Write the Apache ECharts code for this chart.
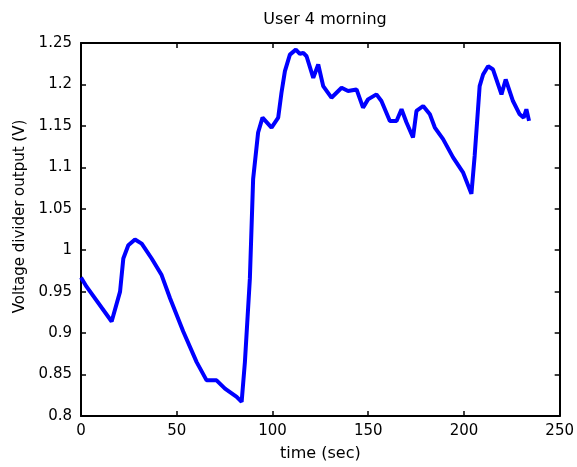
<!DOCTYPE html>
<html><head><meta charset="utf-8">
<script src="https://cdn.jsdelivr.net/npm/echarts@6/dist/echarts.min.js"></script>
<style>html,body{margin:0;padding:0;background:#fff}#c{width:577px;height:467px}</style>
</head><body><div id="c"></div>
<script>
const titleText = "User 4 morning";
const xName = "time (sec)";
const yName = "Voltage divider output (V)";
const timeSec = [0,2.9,16.0,20.4,22.1,24.7,28.2,31.7,36.9,42.1,46.5,53.4,60.4,65.6,70.8,75.2,81.3,83.9,85.6,88.2,89.9,92.5,94.8,99.5,103.0,104.7,106.5,109.1,112.2,114.3,116.1,117.8,121.3,123.9,126.5,130.8,136.1,139.5,143.9,147.3,149.9,154.3,156.9,161.3,164.8,167.4,170.0,173.4,175.2,178.7,182.2,184.8,189.1,194.3,199.5,203.9,205.6,208.2,210.0,212.6,215.2,219.6,221.8,225.6,229.1,231.2,232.6,234.0];
const voltage = [0.967,0.956,0.914,0.950,0.990,1.006,1.013,1.008,0.990,0.970,0.942,0.902,0.865,0.843,0.843,0.833,0.823,0.817,0.865,0.966,1.086,1.142,1.160,1.148,1.160,1.190,1.216,1.236,1.242,1.237,1.238,1.234,1.208,1.224,1.198,1.184,1.196,1.192,1.194,1.172,1.182,1.188,1.180,1.156,1.156,1.170,1.154,1.136,1.168,1.174,1.164,1.148,1.134,1.112,1.094,1.068,1.114,1.198,1.212,1.222,1.218,1.188,1.206,1.180,1.164,1.160,1.170,1.156];
const xTicks = [0,50,100,150,200,250];
const yTicks = [0.8,0.85,0.9,0.95,1,1.05,1.1,1.15,1.2,1.25];

const font = "DejaVu Sans";
const fmtY = v => String(+v.toFixed(2));
const axisCommon = {
  axisLine:{show:true,onZero:false,lineStyle:{color:'#000',width:2}},
  axisTick:{show:true,inside:true,length:5,lineStyle:{color:'#000',width:1.5}},
  splitLine:{show:false}
};
const chart = echarts.init(document.getElementById('c'));
chart.setOption({
  animation:false,
  backgroundColor:'#fff',
  title:{text:titleText,left:320,top:7,textAlign:'center',textStyle:{fontFamily:font,fontSize:16,fontWeight:'normal',color:'#000'}},
  grid:{left:81,top:43,right:17,bottom:49},
  xAxis:[
    Object.assign({type:'value',min:xTicks[0],max:xTicks[xTicks.length-1],interval:50,position:'bottom',
      name:xName,nameLocation:'middle',nameGap:30,nameTextStyle:{fontFamily:font,fontSize:16,color:'#000'},
      axisLabel:{fontFamily:font,fontSize:15,color:'#000',margin:8}},axisCommon),
    Object.assign({type:'value',min:0,max:250,interval:50,position:'top',axisLabel:{show:false}},axisCommon)
  ],
  yAxis:[
    Object.assign({type:'value',min:yTicks[0],max:yTicks[yTicks.length-1],interval:0.05,position:'left',
      name:yName,nameLocation:'middle',nameGap:51,nameRotate:90,
      nameTextStyle:{fontFamily:font,fontSize:15,color:'#000',padding:[0,0,0,26]},
      axisLabel:{fontFamily:font,fontSize:15,color:'#000',margin:9,formatter:fmtY}},axisCommon),
    Object.assign({type:'value',min:0.8,max:1.25,interval:0.05,position:'right',axisLabel:{show:false}},axisCommon)
  ],
  series:[{type:'line',data:timeSec.map((t,i)=>[t,voltage[i]]),showSymbol:false,
    lineStyle:{color:'#0000ff',width:4},xAxisIndex:0,yAxisIndex:0}]
});
</script></body></html>
